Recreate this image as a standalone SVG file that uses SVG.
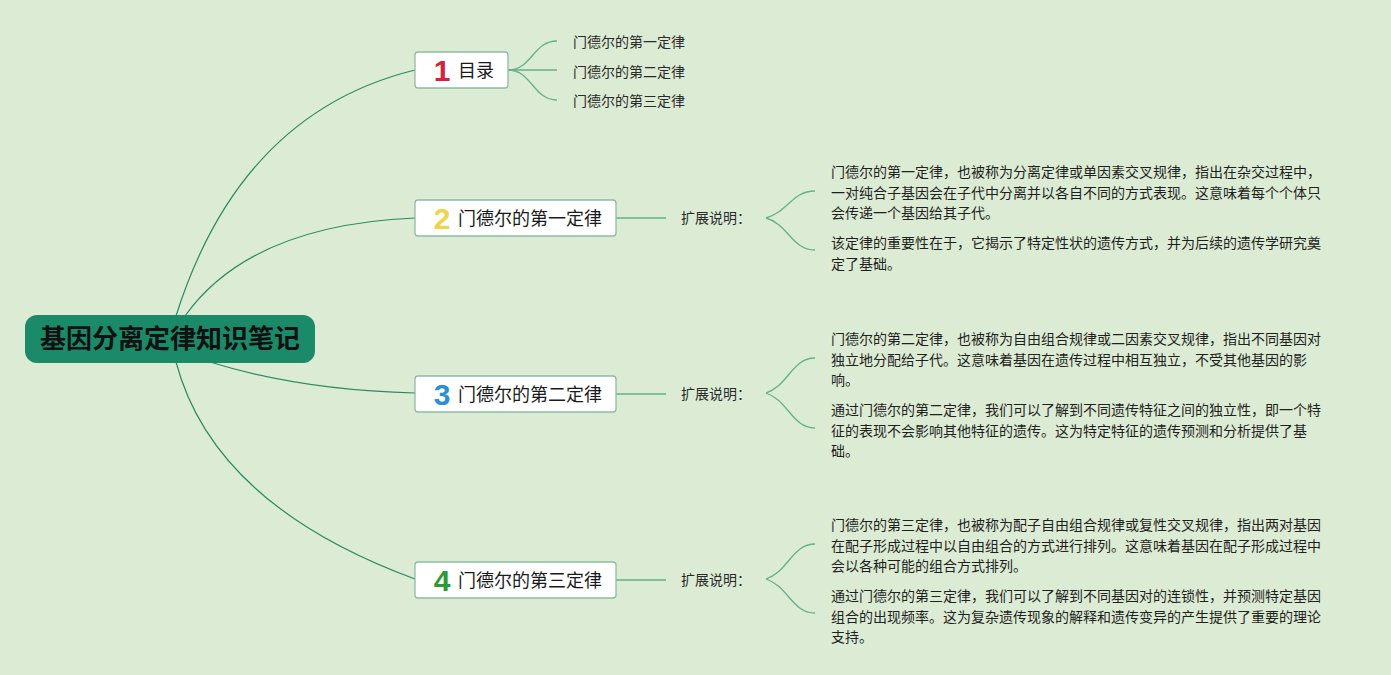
<svg xmlns="http://www.w3.org/2000/svg" width="1391" height="675" viewBox="0 0 1391 675">
<style>
.cjk{font-family:"Noto Sans CJK SC","Noto Sans",sans-serif;}
.root-box{fill:#1b8a68;}
.root-t{font-family:"Noto Sans CJK SC",sans-serif;font-size:26px;font-weight:700;fill:#111;}
.box{fill:#ffffff;stroke:#8fbca4;stroke-width:1.3;}
.lbl{font-family:"Noto Sans CJK SC",sans-serif;font-size:18px;fill:#1a1a1a;}
.num{font-family:"Liberation Sans","Noto Sans",sans-serif;font-size:30px;font-weight:700;text-anchor:middle;}
.sub{font-family:"Noto Sans CJK SC",sans-serif;font-size:14px;fill:#2a2a2a;}
.note{font-family:"Noto Sans CJK SC",sans-serif;font-size:14px;fill:#1f1f1f;}
.main{fill:none;stroke:#2b8a64;stroke-width:1.2;}
.minor{fill:none;stroke:#62b18c;stroke-width:1.3;}
</style>
<rect width="1391" height="675" fill="#dcebd3"/>
<g id="connectors">
<path class="main" d="M176,316 Q240,113 415,70"/>
<path class="main" d="M185,316 Q250,225 415,218"/>
<path class="main" d="M210,362 Q300,390 415,393"/>
<path class="main" d="M176,362 Q214,505 415,579"/>
<path class="minor" d="M508,70 C532,70 533,41 557,41"/>
<path class="minor" d="M508,70 L557,70"/>
<path class="minor" d="M508,70 C532,70 533,100 557,100"/>
<path class="minor" d="M616,218 L666,218"/>
<path class="minor" d="M616,394 L666,394"/>
<path class="minor" d="M616,580 L666,580"/>
<path class="minor" d="M766,218 C788,212 792,191 815,191"/>
<path class="minor" d="M766,218 C788,224 792,250 815,250"/>
<path class="minor" d="M766,393 C788,386 792,358 815,358"/>
<path class="minor" d="M766,393 C788,400 792,428 815,428"/>
<path class="minor" d="M766,579 C788,572 792,544 815,544"/>
<path class="minor" d="M766,579 C788,586 792,613 815,613"/>
</g>
<g id="root">
<rect class="root-box" x="25" y="315" width="290" height="48" rx="12"/>
<text class="root-t" x="170" y="348" text-anchor="middle">基因分离定律知识笔记</text>
</g>
<g id="node1">
<rect class="box" x="415" y="52" width="93" height="36" rx="3"/>
<text class="num" x="442" y="81" fill="#d8223a">1</text>
<text class="lbl" x="458" y="77">目录</text>
</g>
<g id="node1-items">
<text class="sub" x="573" y="47">门德尔的第一定律</text>
<text class="sub" x="573" y="77">门德尔的第二定律</text>
<text class="sub" x="573" y="106">门德尔的第三定律</text>
</g>
<g id="node2">
<rect class="box" x="415" y="200" width="201" height="36" rx="3"/>
<text class="num" x="442" y="229" fill="#f3d34a">2</text>
<text class="lbl" x="458" y="225">门德尔的第一定律</text>
</g>
<g id="node2-ext">
<text class="sub" x="681" y="223">扩展说明：</text>
<text class="note" x="831" y="177">门德尔的第一定律，也被称为分离定律或单因素交叉规律，指出在杂交过程中，</text>
<text class="note" x="831" y="198">一对纯合子基因会在子代中分离并以各自不同的方式表现。这意味着每个个体只</text>
<text class="note" x="831" y="218">会传递一个基因给其子代。</text>
<text class="note" x="831" y="248">该定律的重要性在于，它揭示了特定性状的遗传方式，并为后续的遗传学研究奠</text>
<text class="note" x="831" y="269">定了基础。</text>
</g>
<g id="node3">
<rect class="box" x="415" y="376" width="201" height="36" rx="3"/>
<text class="num" x="442" y="405" fill="#2b8fd8">3</text>
<text class="lbl" x="458" y="401">门德尔的第二定律</text>
</g>
<g id="node3-ext">
<text class="sub" x="681" y="399">扩展说明：</text>
<text class="note" x="831" y="344">门德尔的第二定律，也被称为自由组合规律或二因素交叉规律，指出不同基因对</text>
<text class="note" x="831" y="365">独立地分配给子代。这意味着基因在遗传过程中相互独立，不受其他基因的影</text>
<text class="note" x="831" y="385">响。</text>
<text class="note" x="831" y="415">通过门德尔的第二定律，我们可以了解到不同遗传特征之间的独立性，即一个特</text>
<text class="note" x="831" y="436">征的表现不会影响其他特征的遗传。这为特定特征的遗传预测和分析提供了基</text>
<text class="note" x="831" y="456">础。</text>
</g>
<g id="node4">
<rect class="box" x="415" y="562" width="201" height="36" rx="3"/>
<text class="num" x="442" y="591" fill="#2a9c34">4</text>
<text class="lbl" x="458" y="587">门德尔的第三定律</text>
</g>
<g id="node4-ext">
<text class="sub" x="681" y="585">扩展说明：</text>
<text class="note" x="831" y="530">门德尔的第三定律，也被称为配子自由组合规律或复性交叉规律，指出两对基因</text>
<text class="note" x="831" y="551">在配子形成过程中以自由组合的方式进行排列。这意味着基因在配子形成过程中</text>
<text class="note" x="831" y="571">会以各种可能的组合方式排列。</text>
<text class="note" x="831" y="601">通过门德尔的第三定律，我们可以了解到不同基因对的连锁性，并预测特定基因</text>
<text class="note" x="831" y="622">组合的出现频率。这为复杂遗传现象的解释和遗传变异的产生提供了重要的理论</text>
<text class="note" x="831" y="642">支持。</text>
</g>
</svg>
